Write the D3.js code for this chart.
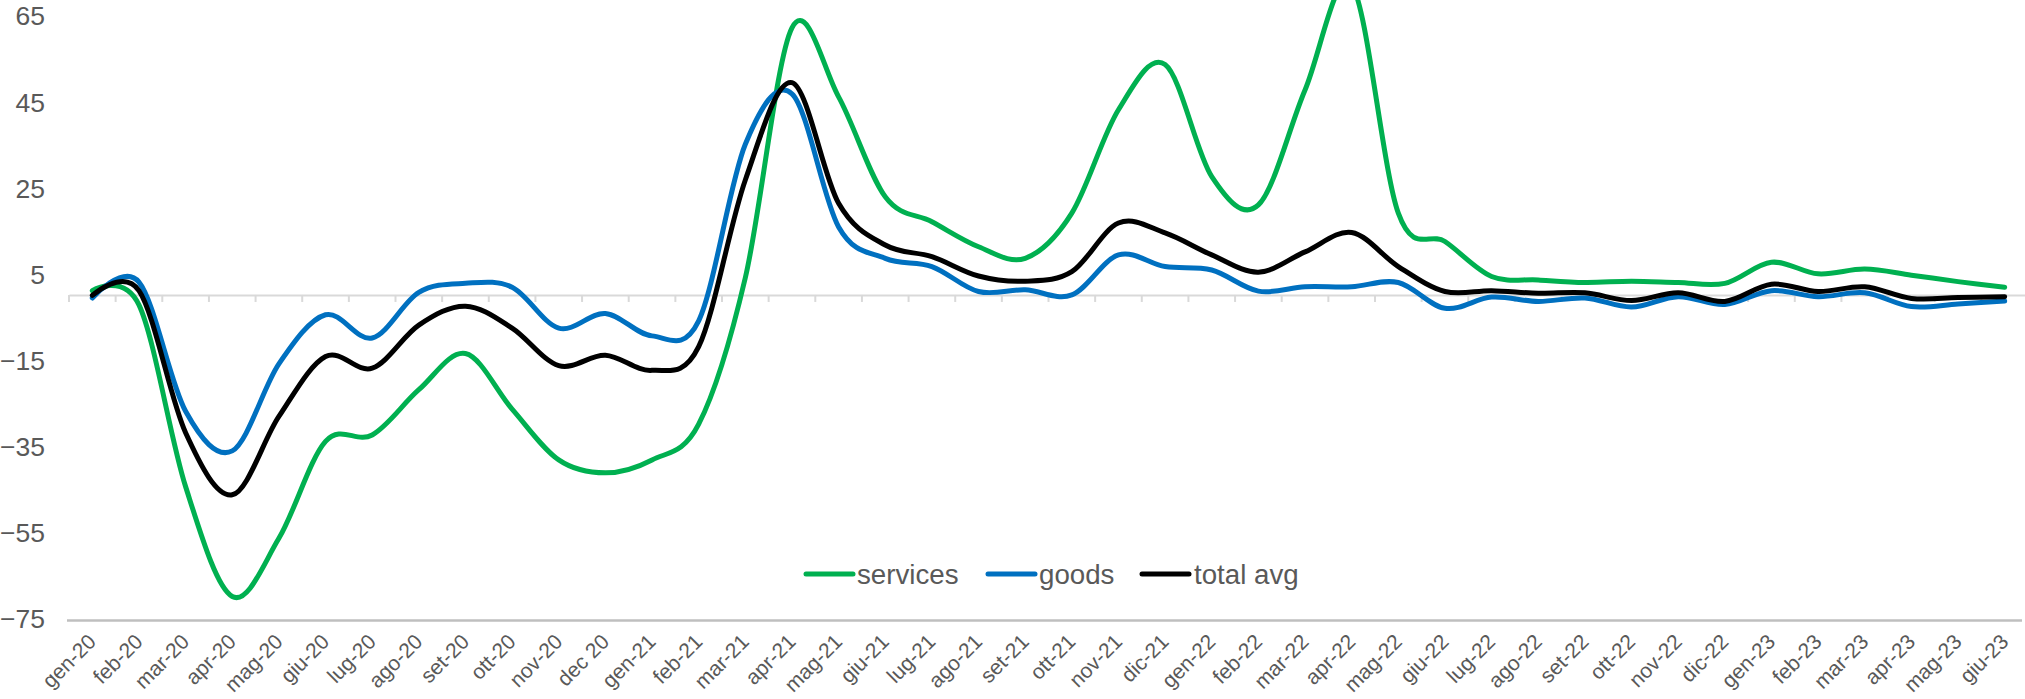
<!DOCTYPE html>
<html>
<head>
<meta charset="utf-8">
<script src="https://cdn.jsdelivr.net/npm/d3@7"></script>
<style>
  html, body { margin: 0; padding: 0; background: #fff; }
  svg { display: block; }
  text { font-family: "Liberation Sans", Arial, sans-serif; fill: #595959; }
</style>
</head>
<body>
<script>
// Monthly categories (Italian abbreviations)
const months = [
  "gen-20","feb-20","mar-20","apr-20","mag-20","giu-20","lug-20","ago-20","set-20","ott-20","nov-20","dec 20",
  "gen-21","feb-21","mar-21","apr-21","mag-21","giu-21","lug-21","ago-21","set-21","ott-21","nov-21","dic-21",
  "gen-22","feb-22","mar-22","apr-22","mag-22","giu-22","lug-22","ago-22","set-22","ott-22","nov-22","dic-22",
  "gen-23","feb-23","mar-23","apr-23","mag-23","giu-23"
];

const services = [
  1, -2.3, -44.5, -70, -56.5, -34, -32.5, -22, -13.6, -26.5, -38.3, -41.3,
  -38.3, -30, 4, 62, 46, 22.8, 17, 11.2, 8.5, 19, 43, 53.5,
  27.5, 20.9, 47.6, 72, 19, 12.4, 4.3, 3.5, 2.9, 3.2, 2.9, 2.7,
  7.6, 4.9, 6, 4.6, 3.1, 1.8
];

const goods = [
  -0.7, 3, -27, -36.2, -16, -4.6, -10, 0.6, 2.7, 1.8, -7.7, -4.3,
  -9.5, -6, 35, 46.7, 15.8, 8.5, 6.6, 0.8, 1.2, 0, 9.3, 6.6,
  5.8, 0.9, 1.9, 1.9, 2.9, -3.1, -0.5, -1.5, -0.7, -2.8, -0.4, -2.2,
  1, -0.4, 0.5, -2.7, -2.1, -1.4
];

const totalAvg = [
  -0.1, 1, -32, -46.4, -28.2, -14.3, -17, -7, -2.6, -7.7, -16.4, -14,
  -17.5, -12, 26.7, 49.3, 21.3, 11.6, 8.9, 4.4, 3.2, 5.4, 16.7, 14.4,
  9.3, 5.3, 10, 14.5, 6.6, 0.8, 1, 0.4, 0.5, -1.3, 0.5, -1.5,
  2.5, 0.8, 1.9, -0.8, -0.6, -0.4
];

const yTicks = [-75, -55, -35, -15, 5, 25, 45, 65];

const seriesNames = ["services", "goods", "total avg"];
const seriesColors = ["#00b050", "#0070c0", "#000000"];
const seriesValues = [services, goods, totalAvg];

const W = 2025, H = 699;

const svg = d3.select("body").append("svg")
  .attr("width", W).attr("height", H);

const x = d3.scaleBand().domain(months).range([69, 2028]).padding(0);
const y = d3.scaleLinear().domain([-75, 65]).range([618, 15]);
const cx = m => x(m) + x.bandwidth() / 2;

// Value axis labels
const yAxis = d3.axisLeft(y).tickValues(yTicks).tickSize(0).tickPadding(0);
const gy = svg.append("g").attr("transform", "translate(45,1.5)").call(yAxis);
gy.select(".domain").remove();
gy.selectAll("text")
  .attr("x", 0)
  .style("font-size", "26.5px")
  .style("font-family", "'Liberation Sans', Arial, sans-serif")
  .attr("fill", "#595959");

// Bottom rule of the plot area
svg.append("line")
  .attr("x1", 67).attr("x2", 2022)
  .attr("y1", y(-75) + 2.5).attr("y2", y(-75) + 2.5)
  .attr("stroke", "#bfbfbf").attr("stroke-width", 2.5);

// Category axis crossing at zero, with tick marks between months
const xAxis = d3.axisBottom(x).tickSize(0).tickFormat("");
const gx = svg.append("g").attr("transform", `translate(0,${y(0)})`).call(xAxis);
gx.select(".domain").attr("stroke", "#d9d9d9").attr("stroke-width", 2);
gx.selectAll(".tick").remove();
const bounds = months.map(m => x(m)).concat([x(months[months.length - 1]) + x.bandwidth()]);
gx.selectAll("line.sep").data(bounds).enter().append("line")
  .attr("class", "sep")
  .attr("x1", d => d).attr("x2", d => d)
  .attr("y1", 0).attr("y2", 7)
  .attr("stroke", "#d9d9d9").attr("stroke-width", 2);

// Rotated month labels below the plot area
svg.append("g").selectAll("text").data(months).enter().append("text")
  .attr("transform", d => `translate(${cx(d) + 5},643) rotate(-45)`)
  .attr("text-anchor", "end")
  .style("font-size", "21px")
  .text(d => d);

// Smoothed series lines
const line = d3.line()
  .x((d, i) => cx(months[i]))
  .y(d => y(d))
  .curve(d3.curveCardinal.tension(0));

svg.append("g").selectAll("path").data(seriesValues).enter().append("path")
  .attr("d", d => line(d))
  .attr("fill", "none")
  .attr("stroke", (d, i) => seriesColors[i])
  .attr("stroke-width", 5)
  .attr("stroke-linejoin", "round")
  .attr("stroke-linecap", "round");

// Legend
const legendItems = [
  { x: 806, tx: 857 },
  { x: 988, tx: 1039 },
  { x: 1142, tx: 1194 }
];
const lg = svg.append("g");
seriesNames.forEach((name, i) => {
  lg.append("line")
    .attr("x1", legendItems[i].x).attr("x2", legendItems[i].x + 47)
    .attr("y1", 574).attr("y2", 574)
    .attr("stroke", seriesColors[i]).attr("stroke-width", 5)
    .attr("stroke-linecap", "round");
  lg.append("text")
    .attr("x", legendItems[i].tx).attr("y", 574)
    .attr("dy", "0.35em")
    .style("font-size", "27.7px")
    .text(name);
});
</script>
</body>
</html>
